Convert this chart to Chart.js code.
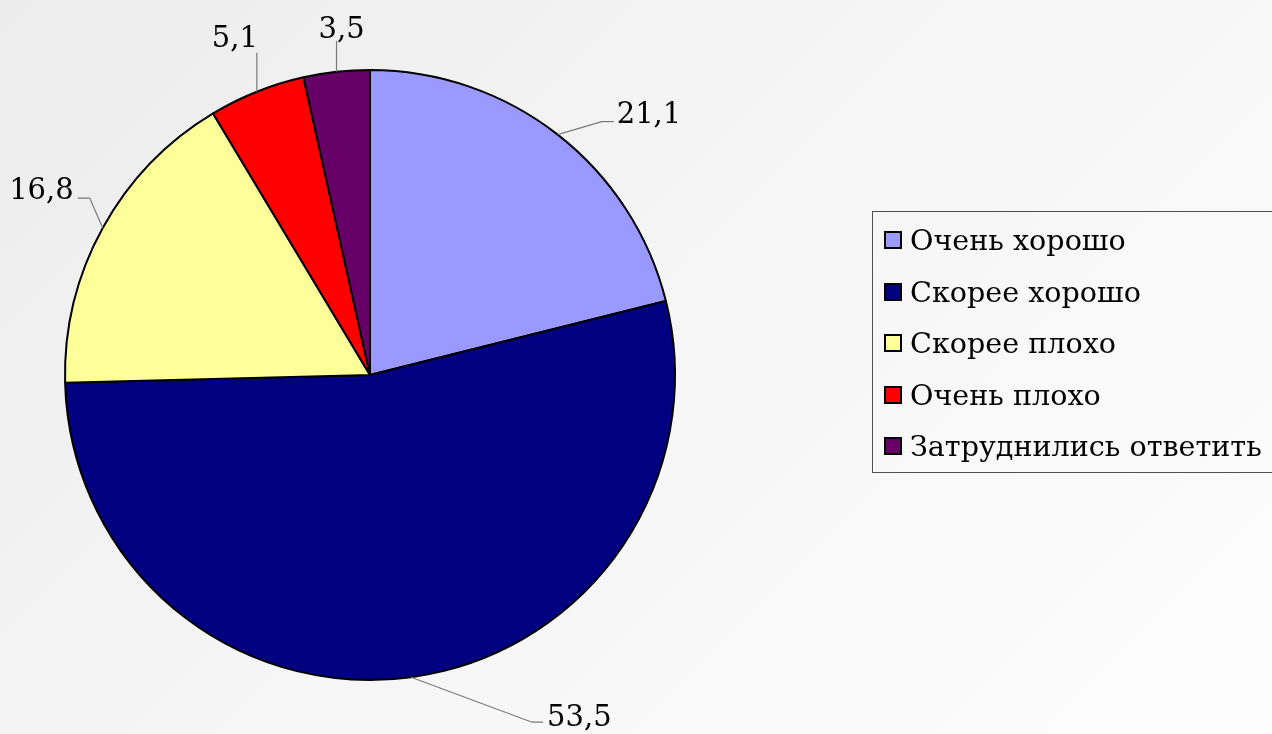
<!DOCTYPE html>
<html><head><meta charset="utf-8">
<script src="https://cdn.jsdelivr.net/npm/chart.js@4.4.1/dist/chart.umd.min.js"></script>
<style>
html,body{margin:0;padding:0;width:1272px;height:734px;overflow:hidden;}
body{background:linear-gradient(135deg,#ececec 0%,#f5f5f5 45%,#fdfdfd 100%);font-family:"DejaVu Serif",serif;position:relative;}
#wrap{position:absolute;left:0;top:0;width:1272px;height:734px;}
#legend{position:absolute;left:872px;top:211px;width:430px;height:262px;border:1px solid #505050;box-sizing:border-box;}
.item{position:absolute;left:11px;height:34px;display:flex;align-items:center;font-size:28.6px;color:#000;white-space:nowrap;line-height:34px;}
.sw{width:18px;height:18px;border:2px solid #000;margin-right:8px;box-sizing:border-box;flex:none;}
</style></head>
<body>
<div id="wrap"><canvas id="c" width="1272" height="734"></canvas></div>
<div id="legend"></div>
<script>
const categories = ["Очень хорошо","Скорее хорошо","Скорее плохо","Очень плохо","Затруднились ответить"];
const values = [21.1, 53.5, 16.8, 5.1, 3.5];
const valueLabels = ["21,1","53,5","16,8","5,1","3,5"];
const colors = ["#9999FF","#000080","#FFFF99","#FF0000","#660066"];

// leader-line layout per slice (relative to the slice's outer mid point)
const labelLayout = [
  {pts:[[44,-13],[56,-13]], align:"left",  tdx:3,  tdy:1},
  {pts:[[121,45],[132,45]], align:"left",  tdx:4,  tdy:4},
  {pts:[[-13,-30],[-25,-30]], align:"right", tdx:-4, tdy:1},
  {pts:[[0,-39]], align:"right", tdx:1, tdy:-6},
  {pts:[[0,-31]], align:"center", tdx:5, tdy:-3}
];

const leaderPlugin = {
  id:"leaders",
  afterDatasetsDraw(chart){
    const ctx = chart.ctx;
    const meta = chart.getDatasetMeta(0);
    ctx.save();
    meta.data.forEach((arc,i)=>{
      const p = arc.getProps(["x","y","startAngle","endAngle","outerRadius"], true);
      const mid = (p.startAngle + p.endAngle)/2;
      const ax = p.x + Math.cos(mid)*p.outerRadius;
      const ay = p.y + Math.sin(mid)*p.outerRadius;
      const L = labelLayout[i];
      ctx.beginPath();
      ctx.strokeStyle = "#7a7a7a";
      ctx.lineWidth = 1.2;
      ctx.moveTo(ax, ay);
      L.pts.forEach(q=>ctx.lineTo(ax+q[0], ay+q[1]));
      ctx.stroke();
      const end = L.pts[L.pts.length-1];
      ctx.fillStyle = "#000";
      ctx.font = '29px "DejaVu Serif", serif';
      ctx.textAlign = L.align;
      ctx.textBaseline = "alphabetic";
      ctx.fillText(valueLabels[i], ax+end[0]+L.tdx, ay+end[1]+L.tdy);
    });
    ctx.restore();
  }
};

new Chart(document.getElementById("c"), {
  type:"pie",
  data:{
    labels:categories,
    datasets:[{data:values, backgroundColor:colors, borderColor:"#000", borderWidth:2}]
  },
  options:{
    responsive:false,
    animation:false,
    devicePixelRatio:1,
    layout:{padding:{left:64, top:69, right:596, bottom:53}},
    plugins:{legend:{display:false}, tooltip:{enabled:false}}
  },
  plugins:[leaderPlugin]
});

const lg = document.getElementById("legend");
categories.forEach((c,i)=>{
  const d = document.createElement("div");
  d.className = "item";
  d.style.top = (11 + i*51.5) + "px";
  const s = document.createElement("span");
  s.className = "sw"; s.style.background = colors[i];
  const t = document.createElement("span");
  t.textContent = c;
  d.appendChild(s); d.appendChild(t);
  lg.appendChild(d);
});
</script>
</body></html>
